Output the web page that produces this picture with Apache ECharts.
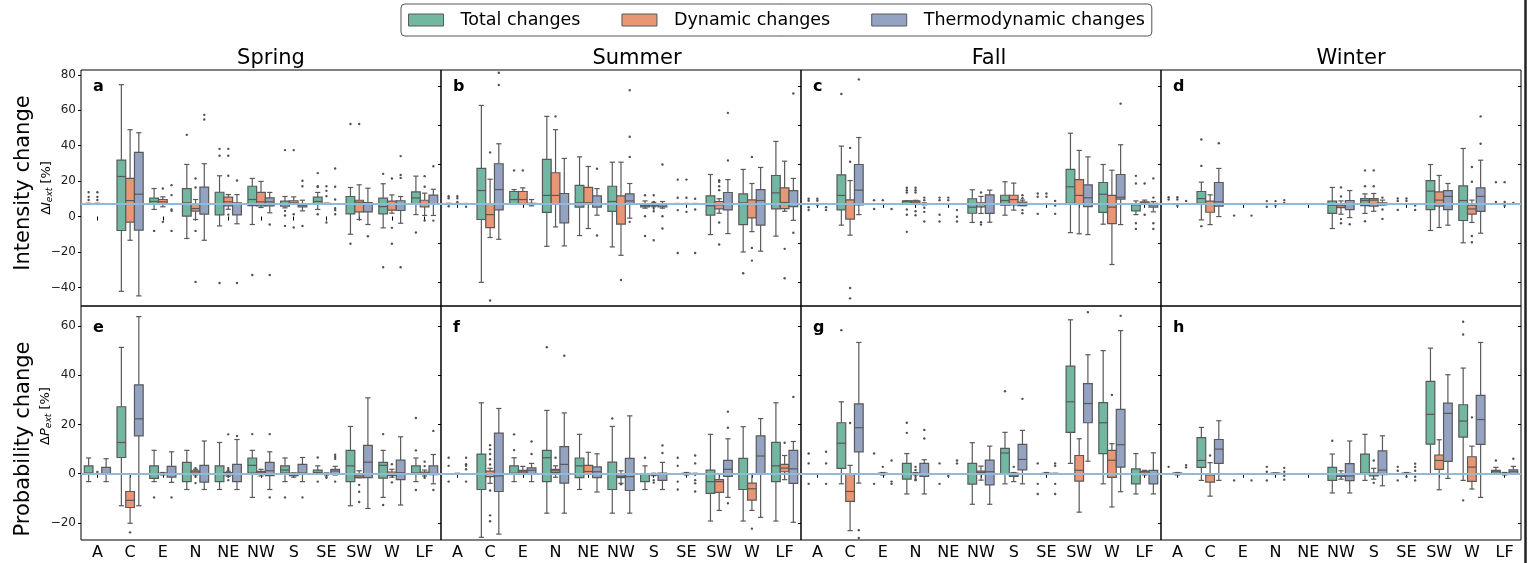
<!DOCTYPE html>
<html><head><meta charset="utf-8">
<script src="https://cdn.jsdelivr.net/npm/echarts@6/dist/echarts.min.js"></script>
<style>html,body{margin:0;padding:0;background:#fff}#chart{width:1528px;height:563px}</style>
</head><body><div id="chart"></div>
<script>
// ---------------- DATA ----------------
const categories = ['A','C','E','N','NE','NW','S','SE','SW','W','LF'];
const seriesNames = ['Total changes','Dynamic changes','Thermodynamic changes'];
const seasons = ['Spring','Summer','Fall','Winter'];
const panelLetters = ['a','b','c','d','e','f','g','h'];
const intensityTickLabels = [-40,-20,0,20,40,60,80];
const intensityTicksOther = [-40,-20,0,20,40,60];
const probabilityTickLabels = [-20,0,20,40,60];
const referenceLevels = [7,0,0,0,0,0,0,0];

// box stats: [lower whisker, q1, median, q3, upper whisker] per category
// ---- Intensity, Spring (a)
const intSpringTotal = [[6.8,6.9,7.0,7.2,7.5],[-42.2,-7.9,22.6,31.8,74.4],[4.0,7.0,8.5,10.4,15.8],[-12.4,0.2,7.7,15.8,29.4],[-5.3,0.9,7.0,13.7,23.0],[-4.5,6.2,9.6,17.1,21.5],[4.9,5.8,7.0,8.7,11.3],[4.0,7.3,8.5,10.9,13.6],[-10.0,1.5,7.0,11.3,16.4],[-6.4,1.5,5.6,10.4,18.5],[1.1,7.0,10.5,13.9,22.8]];
const intSpringTotalOut = [[13.7,11.1,9.3],[],[-8.1],[46.1],[38.2,34.3,-37.5],[-33],[37.5,3.2,0.6,-5.3],[24.5,17.1,16.6,1.3],[52.2,-15.4],[24.1,-28.6],[-9.0]];
const intSpringDyn = [[6.8,6.9,7.0,7.2,7.5],[-13.4,-3.2,9.0,21.5,49.0],[5.5,7.0,8.3,9.6,11.1],[-1.7,3.0,4.5,7.3,9.6],[4.1,6.0,8.3,10.9,12.4],[5.1,6.0,8.3,13.6,19.8],[7.0,7.0,7.7,8.9,11.1],[7.1,7.2,7.3,7.4,7.5],[-1.7,2.6,8.1,9.2,17.9],[1.9,3.6,7.0,8.7,12.2],[0.6,5.5,7.3,9.2,13.2]];
const intSpringDynOut = [[13.7,11.1,9.3],[],[15.8,-3.0],[21.5,16.4,-8.1,-36.9],[38.2,34.3,23.0,1.1],[],[37.5,1.3,-6.2],[17.1,14.5,11.5,-3.4],[52.2],[21.5,-6.4,-15.4],[22.8,16.8,-2.3]];
const intSpringThermo = [[6.9,7.0,7.0,7.0,7.1],[-44.8,-7.7,12.6,36.2,47.3],[6.8,6.9,7.0,7.1,7.2],[-13.4,1.3,7.0,16.6,29.8],[-4.1,0.9,7.0,7.7,12.4],[2.1,6.0,8.3,10.5,13.6],[3.2,5.5,6.4,7.0,9.2],[6.9,7.0,7.0,7.1,7.2],[-4.5,2.6,7.0,7.9,16.0],[-3.8,3.4,7.0,8.9,11.3],[0.6,7.0,7.0,12.1,15.4]];
const intSpringThermoOut = [[],[],[17.7,12.1,4.0,3.2,-8.1],[57.4,54.8],[20.3,-37.5],[-4.5,-33],[20.2,17.1,-5.3],[27.1,16.8,9.6,4.7,3.6,1.3],[-11.1],[34.1,23.5,21.8,-28.6],[28.4,-2.3]];

// ---- Intensity, Summer (b)
const intSummerTotal = [[-0.3,0,0,0,0.3],[-40.1,-8.0,6.8,18.1,50.3],[-0.3,-0.3,2.2,6.3,7.3],[-21.7,-4.4,4.3,22.7,44.7],[-16.2,-1.7,0.5,9.4,24.0],[-22.0,-3.8,1.2,9.0,21.3],[-2.2,-1.5,-0.9,0,1.5],[-0.2,0,0,0,0.2],[-15.7,-5.8,-1.0,4.1,15.0],[-24.6,-10.6,0.5,5.1,17.6],[-16.5,-2.6,5.6,14.5,31.9]];
const intSummerTotalOut = [[3.9,2.9,-1.2],[],[17.1],[],[],[],[4.4,-6.3,-16.4],[12.4,3.1,-3.2,-25.1],[],[-35.5],[]];
const intSummerDyn = [[-0.2,0,0,0,0.2],[-17.2,-12.1,-5.5,0,12.6],[0,0,2.2,6.3,8.2],[-11.8,0,4.3,15.9,37.9],[-12.6,0.3,0.5,8.4,19.1],[-26.3,-10.4,0,4.1,21.3],[-1.5,-1.0,-0.5,0,0.8],[-0.2,0,0,0,0.2],[-4.8,-2.6,-0.5,1.2,2.6],[-14.2,-7.2,-0.3,2.0,10.4],[-3.8,-2.4,0.7,8.2,21.8]];
const intSummerDynOut = [[3.9,2.9,1.0],[26.3,-49.4],[17.1],[44.7],[],[-38.9],[4.4,1.0,-2.4,-3.8,-18.6],[12.4,3.1,-4.1],[12.1,11.3,9.0,7.0,-9.5,-20.8],[24.0,-22.5,-29.0],[-23.0,-38.0]];
const intSummerThermo = [[-0.2,0,0,0,0.2],[-18.1,-3.1,7.3,20.5,30.7],[-1.0,-0.3,0,0.3,2.2],[-21.5,-9.7,0,5.3,23.2],[-5.8,-1.7,0,4.1,7.8],[-7.3,0,1.5,5.1,10.4],[-2.2,-1.5,-0.5,0,1.2],[-0.2,0,0,0,0.2],[-15.2,-3.1,0,5.8,12.4],[-24.2,-10.9,1.7,7.3,18.6],[-8.4,-1.4,-0.3,6.8,13.0]];
const intSummerThermoOut = [[-1.5],[67.0,60.7],[],[],[17.9,-16.2],[58.1,34.3,24.0,-9.2],[20.1,-6.3,-12.6],[2.6,-2.9,-25.1],[46.5,22.2],[],[56.4,-14.8]];

// ---- Intensity, Fall (c)
const intFallTotal = [[0,0,0,0,0],[-10.9,-3.1,4.3,14.8,29.5],[0,0,0,0,0],[-0.3,-0.3,1.2,1.5,1.5],[0,0,0,0,0],[-9.5,-4.8,-1.7,2.6,7.2],[-5.8,-0.7,1.7,4.4,11.3],[0,0,0,0,0],[-14.7,0.3,8.7,17.6,36.1],[-10.4,-4.4,4.9,10.9,20.1],[-5.5,-3.6,-0.5,0,1.5]];
const intFallTotalOut = [[2.6,1.6,-1.7,-3.2],[56.1],[1.9,-2.6],[8.2,7.0,5.8,-2.9,-5.6,-14.3],[3.2,1.9,-5.6,-9.0],[],[],[5.3,3.6,-5.1],[],[],[14.3,10.4,-9.9,-12.8]];
const intFallDyn = [[0,0,0,0,0],[-16.0,-7.8,0,2.0,11.9],[0,0,0,0,0],[-0.3,0,0.9,1.5,1.8],[0,0,0,0,0],[-4.9,-1.5,-0.3,0.5,3.8],[-3.2,-0.5,2.2,4.4,10.6],[0,0,0,0,0],[-15.3,0,4.3,12.4,27.3],[-31.0,-10.1,-1.7,4.3,17.2],[-0.3,0,0.5,1.0,1.9]];
const intFallDynOut = [[2.6,1.6,-0.7],[28.6,21.5,-43.0,-48.3],[1.9],[8.2,7.0,5.8,-3.8,-5.8],[3.2,1.9],[5.8,-9.4,-10.6],[],[5.3,3.6],[],[],[10.4,-5.6]];
const intFallThermo = [[0,0,0,0,0],[-5.5,-0.5,7.0,20.1,33.9],[0,0,0,0,0],[-0.5,0,0,0,0.5],[0,0,0,0,0],[-9.4,-4.9,0,4.6,7.0],[-0.9,-0.9,0,0.9,1.9],[0,0,0,0,0],[-15.7,-1.4,3.1,9.7,24.0],[-10.6,2.4,3.4,15.0,30.2],[-4.1,-1.7,-0.5,0.2,1.2]];
const intFallThermoOut = [[-1.7,-3.2],[63.6],[-2.6],[3.2,1.9,-2.0,-4.1,-9.0],[-3.2,-6.6,-9.0],[],[4.4,2.9,-3.2,-4.8],[1.5,-0.9,-5.1],[],[51.2],[13.0,3.2,-9.9,-12.8]];

// ---- Intensity, Winter (d)
const intWinterTotal = [[0,0,0,0,0],[-8.2,0.3,2.7,6.3,11.1],[0,0,0,0,0],[0,0,0,0,0],[0,0,0,0,0],[-12.6,-4.9,-0.7,1.4,8.4],[-4.9,-0.9,1.7,2.7,5.1],[0,0,0,0,0],[-13.6,-2.9,6.5,11.9,20.1],[-19.9,-8.5,1.7,9.2,28.3],[0,0,0,0,0]];
const intWinterTotalOut = [[3.4,2.2],[32.9,19.4,-11.4],[-6.0],[1.4,-1.5],[],[],[17.1,9.0,-8.9],[2.7,1.5,-3.1],[],[],[11.1,1.0]];
const intWinterDyn = [[0,0,0,0,0],[-10.6,-4.3,0,1.4,4.6],[0,0,0,0,0],[0,0,0,0,0],[0,0,0,0,0],[-5.3,-1.9,-1.0,-0.2,1.5],[-3.8,-1.2,1.9,2.7,5.3],[0,0,0,0,0],[-12.1,-1.2,1.9,6.1,14.5],[-9.5,-5.3,-2.6,-0.7,1.9],[0,0,0,0,0]];
const intWinterDynOut = [[3.4,2.2,-1.0],[],[],[1.4,-1.0],[],[8.4,3.8,-7.8,-9.9],[17.1,9.0],[2.7,1.5],[],[18.8,11.3,-16.4,-19.6],[11.1,1.0,-1.0]];
const intWinterThermo = [[0,0,0,0,0],[-6.5,-1.2,1.0,10.9,18.1],[0,0,0,0,0],[0,0,0,0,0],[0,0,0,0,0],[-7.0,-2.9,-0.2,1.7,6.8],[-0.5,-0.5,0,0.5,1.9],[0,0,0,0,0],[-10.9,-2.9,3.8,6.8,10.4],[-15.0,-3.8,3.8,8.2,22.3],[0,0,0,0,0]];
const intWinterThermoOut = [[1.5],[31.0],[-6.0],[1.9,0.5],[],[-10.4],[3.2,-2.9,-7.7],[-0.9,-3.1],[],[44.7,30.7],[0.5]];

// ---- Probability, Spring (e)
const probSpringTotal = [[-3.2,0,0.3,3.2,6.4],[-13.0,6.6,12.7,27.2,51.3],[-3.2,-1.9,0,3.2,9.5],[-6.4,-3.2,0,4.6,9.5],[-6.4,-3.2,0,3.2,12.7],[-9.6,0.3,3.4,6.4,9.5],[-3.2,0.3,1.5,3.2,6.4],[0.3,0.3,0.5,1.5,3.2],[-13.0,-3.2,3.2,9.5,19.2],[-9.6,-1.8,3.4,4.6,9.5],[-3.2,0,0.3,3.2,6.4]];
const probSpringTotalOut = [[],[],[-9.6],[],[],[16.1],[-9.6],[6.6,-3.2],[],[16.1,-12.7],[22.6,9.5,-6.6]];
const probSpringDyn = [[0,0,0,0,0],[-20.1,-13.7,-10.8,-7.2,0],[-0.5,-0.3,0,0.3,0.5],[-0.5,0,0.7,1.2,1.8],[-1.0,-0.5,0,0.5,1.0],[-0.9,0.3,0.7,1.0,1.8],[-1.4,-0.8,-0.3,0.3,0.3],[-0.5,-0.3,0,0.2,0.3],[-1.6,-1.6,-0.9,-0.3,1.2],[-1.4,-0.7,0,0.7,1.8],[-0.9,-0.3,0.3,0.7,1.5]];
const probSpringDynOut = [[0.7],[-23.8],[],[2.3,-1.2,-3.8],[16.0,2.3,1.5,-1.2,-2.6],[],[],[-1.2,-1.6],[-4.5,-7.3,-11.5],[3.9,-3.5],[4.9,3.1,-1.6]];
const probSpringThermo = [[-3.2,0,0.1,2.6,6.1],[-13.0,15.4,22.3,36.1,63.8],[-3.5,-1.4,0,3.0,8.9],[-6.4,-3.4,0,3.4,13.3],[-6.4,-3.2,0,3.8,13.9],[-6.4,-0.8,1.2,4.6,8.9],[-3.2,0,0.3,3.8,6.6],[-0.5,0,1.1,1.8,3.0],[-14.1,-1.6,4.7,11.5,30.8],[-12.7,-2.4,0.4,5.5,15.0],[-4.1,-0.4,0.1,3.2,7.8]];
const probSpringThermoOut = [[],[],[-9.6],[],[15.3],[16.1,-9.6],[-9.6],[7.7,6.9,6.1,-3.2],[],[],[17.4,-6.6]];

// ---- Probability, Summer (f)
const probSummerTotal = [[0,0,0,0,0],[-25.8,-6.4,0,8.0,28.8],[-3.2,0,0.2,3.2,6.5],[-16.0,-3.2,6.5,9.5,25.7],[-6.4,-1.6,3.2,6.4,16.0],[-16.0,-6.4,0,4.7,19.2],[-6.4,-3.2,0,0,3.2],[0,0,0,0,0],[-19.2,-8.0,-3.2,1.5,16.0],[-19.2,-6.4,0,6.2,19.1],[-19.2,-3.2,3.2,12.7,28.8]];
const probSummerTotalOut = [[6.5,3.2,-3.2],[],[16.0,9.6],[51.4],[],[22.4],[6.5],[6.5,3.2,-3.2,-6.4],[],[],[]];
const probSummerDyn = [[-0.2,0,0,0,0.2],[-3.9,-1.2,0,1.1,2.2],[0,0.3,0.8,1.4,3.0],[-1.4,0.5,1.2,1.8,3.2],[0,0.1,0.9,3.4,8.7],[-3.9,-1.6,-1.1,-0.4,1.2],[-0.8,-0.5,-0.3,0,0.2],[-0.5,-0.2,0,0.2,0.5],[-14.9,-7.6,-3.2,-2.4,0],[-14.9,-10.7,-6.1,-3.8,0],[-2.4,0.8,2.3,3.8,7.4]];
const probSummerDynOut = [[],[11.6,9.9,8.0,5.9,3.8,-6.8,-16.9,-19.3],[],[6.5],[],[-4.3],[-2.6,-3.6],[],[],[-22.3],[12.6]];
const probSummerThermo = [[0,0,0,0,0],[-24.5,-7.2,-0.9,16.5,26.5],[-3.2,0,1.4,2.4,4.2],[-16.0,-3.8,3.8,11.0,24.7],[-7.4,-1.6,0.8,2.8,8.1],[-16.0,-6.8,-1.2,6.2,23.5],[-6.4,-2.7,0,0.3,4.6],[-0.2,0,0,0,0.2],[-9.6,-1.1,1.8,5.4,14.2],[-17.7,0,7.2,15.4,22.4],[-19.7,-3.9,2.0,9.5,13.1]];
const probSummerThermoOut = [[6.5,3.9,3.2,1.8,-3.2],[],[13.1,8.0],[47.9],[],[],[11.5,8.4],[7.4,4.2,-0.4,-2.6,-3.9,-7.2],[25.2,18.7,-12.0],[],[31.2]];

// ---- Probability, Fall (g)
const probFallTotal = [[0,0,0,0,0],[-4.1,2.2,12.4,20.7,29.2],[0,0,0,0,0],[-8.2,-2.2,0,4.2,8.2],[0,0,0,0,0],[-12.4,-4.2,0,4.2,12.6],[-4.1,0,8.4,10.3,16.8],[0,0,0,0,0],[4.2,16.8,29.2,43.7,62.5],[-4.1,8.2,20.7,28.9,50.0],[-8.2,-4.1,0,2.0,8.2]];
const probFallTotalOut = [[8.2,4.2,-4.1],[58.3],[8.2,-4.1],[20.7,16.6],[4.2,-4.1],[],[33.5],[4.2,-4.1,-8.2],[],[],[]];
const probFallDyn = [[0,0,0,0,0],[-23.1,-11.2,-7.2,-0.3,3.4],[-0.5,-0.3,0,0.3,0.5],[-0.5,-0.2,0,0.3,0.5],[0,0,0,0,0],[-2.6,0,0.5,1.1,3.1],[-3.2,-1.1,-0.5,0.3,0.5],[-0.3,0,0,0.2,0.5],[-15.6,-3.0,1.4,7.4,14.2],[-13.5,-1.5,5.5,9.5,12.2],[-0.5,0,0.3,1.0,1.4]];
const probFallDynOut = [[],[20.6],[2.8],[2.8,1.5,-1.2,-2.2,-2.6],[-0.9],[],[2.8],[],[],[32.0],[]];
const probFallThermo = [[0,0,0,0,0],[-3.8,8.9,18.7,28.4,53.3],[0,0,0,0,0],[-8.2,-1.1,0,4.2,5.7],[0,0,0,0,0],[-12.4,-4.5,0.8,5.5,11.2],[-4.1,1.6,5.8,11.9,17.6],[-0.2,0,0,0.1,0.2],[5.1,20.7,28.5,36.6,48.3],[-7.3,2.7,11.8,26.1,58.1],[-8.2,-4.1,0,1.4,8.5]];
const probFallThermoOut = [[8.9,4.2,-4.1],[-22.9,-26.1],[5.4,-3.2,-4.1],[17.8,14.3],[5.4,4.2],[],[30.4],[4.2,3.2,-4.1,-8.2],[65.6],[64.1],[]];

// ---- Probability, Winter (h)
const probWinterTotal = [[0,0,0,0,0],[-2.7,2.6,5.4,14.7,18.8],[0,0,0,0,0],[0,0,0,0,0],[0,0,0,0,0],[-7.8,-2.7,0,2.6,8.0],[-2.7,0,0.2,8.0,16.0],[0,0,0,0,0],[0,12.0,24.1,37.5,51.0],[-2.7,14.9,21.4,28.0,42.9],[0,0,0.8,1.4,2.6]];
const probWinterTotalOut = [[2.8],[],[-2.7],[2.8,0.8,-2.7],[],[13.4],[],[2.8,1.2,-2.7],[],[61.7,56.5,-10.8],[5.4]];
const probWinterDyn = [[-0.5,0,0,0.3,0.5],[-9.1,-3.4,-0.5,0,4.5],[0,0,0,0,0],[-0.3,0,0,0.3,0.3],[0,0,0,0,0],[-2.2,-1.1,-0.5,0,1.2],[-2.2,-0.9,-0.1,0.3,2.2],[-0.3,-0.2,0,0.3,0.5],[-6.5,1.8,5.4,7.6,13.8],[-6.2,-3.1,2.7,6.9,11.2],[-0.5,-0.3,0,0.3,0.5]];
const probWinterDynOut = [[],[7.4],[],[],[],[],[5.4,-3.7],[-1.2],[],[22.9],[]];
const probWinterThermo = [[0,0,0,0,0],[-2.7,4.2,10.0,13.9,21.5],[0,0,0,0,0],[0,0,0,0,0],[0,0,0,0,0],[-7.8,-2.8,-0.9,4.1,13.3],[-4.9,-0.4,1.5,9.3,15.4],[0,0,0,0,0],[-1.9,5.0,24.5,28.7,40.2],[-9.6,11.9,22.0,31.8,53.3],[0,0,0.8,1.6,3.0]];
const probWinterThermoOut = [[3.5,2.6],[],[-2.7],[2.4,0.8,-0.8,-2.4],[],[],[],[4.1,2.8,1.2,-1.2,-2.7],[],[],[6.1]];

// ---------------- LAYOUT / STYLE ----------------
const FONT = 'DejaVu Sans';
const COLORS = ['#72b7a1', '#e99675', '#95a3c3'];
const LINE = '#595959';
const REF_COLOR = '#8fbbda';
const panelLefts = [81, 441, 801, 1161];
const panelWidth = 360;
const rowTops = [70, 306];
const rowHeights = [236, 234];

const panelBoxes = [
  [intSpringTotal, intSpringDyn, intSpringThermo],
  [intSummerTotal, intSummerDyn, intSummerThermo],
  [intFallTotal, intFallDyn, intFallThermo],
  [intWinterTotal, intWinterDyn, intWinterThermo],
  [probSpringTotal, probSpringDyn, probSpringThermo],
  [probSummerTotal, probSummerDyn, probSummerThermo],
  [probFallTotal, probFallDyn, probFallThermo],
  [probWinterTotal, probWinterDyn, probWinterThermo]
];
const panelOutliers = [
  [intSpringTotalOut, intSpringDynOut, intSpringThermoOut],
  [intSummerTotalOut, intSummerDynOut, intSummerThermoOut],
  [intFallTotalOut, intFallDynOut, intFallThermoOut],
  [intWinterTotalOut, intWinterDynOut, intWinterThermoOut],
  [probSpringTotalOut, probSpringDynOut, probSpringThermoOut],
  [probSummerTotalOut, probSummerDynOut, probSummerThermoOut],
  [probFallTotalOut, probFallDynOut, probFallThermoOut],
  [probWinterTotalOut, probWinterDynOut, probWinterThermoOut]
];

function boxRender(k) {
  return function (params, api) {
    const cat = api.value(0);
    const bw = api.size([1, 0])[0];
    const w = bw * 0.8 / 3;
    const cx = api.coord([cat, 0])[0] + (k - 1) * w;
    const y = i => api.coord([cat, api.value(i)])[1];
    const yLo = y(1), yQ1 = y(2), yMed = y(3), yQ3 = y(4), yHi = y(5);
    const half = w / 2, cap = w * 0.3;
    const ls = { stroke: LINE, lineWidth: 1.2 };
    return {
      type: 'group', children: [
        { type: 'line', shape: { x1: cx, y1: yQ3, x2: cx, y2: yHi }, style: ls },
        { type: 'line', shape: { x1: cx, y1: yQ1, x2: cx, y2: yLo }, style: ls },
        { type: 'line', shape: { x1: cx - cap, y1: yHi, x2: cx + cap, y2: yHi }, style: ls },
        { type: 'line', shape: { x1: cx - cap, y1: yLo, x2: cx + cap, y2: yLo }, style: ls },
        { type: 'rect', shape: { x: cx - half, y: yQ3, width: w, height: Math.max(yQ1 - yQ3, 0.01) }, style: { fill: COLORS[k], stroke: LINE, lineWidth: 1.2 } },
        { type: 'line', shape: { x1: cx - half, y1: yMed, x2: cx + half, y2: yMed }, style: ls }
      ]
    };
  };
}
function outRender(k) {
  return function (params, api) {
    const cat = api.value(0);
    const bw = api.size([1, 0])[0];
    const w = bw * 0.8 / 3;
    const p = api.coord([cat, api.value(1)]);
    return { type: 'circle', shape: { cx: p[0] + (k - 1) * w, cy: p[1], r: 1.2 }, style: { fill: '#505050' } };
  };
}

const grids = [], xAxes = [], yAxes = [], series = [];
for (let p = 0; p < 8; p++) {
  const row = Math.floor(p / 4), col = p % 4;
  grids.push({ left: panelLefts[col], top: rowTops[row], width: panelWidth, height: rowHeights[row],
    show: true, borderColor: '#000', borderWidth: 1, backgroundColor: 'transparent', containLabel: false });
  xAxes.push({ type: 'category', gridIndex: p, data: categories, boundaryGap: true,
    axisLine: { show: false },
    axisTick: { show: true, alignWithLabel: true, length: 4, lineStyle: { color: '#000' } },
    axisLabel: { show: row === 1, fontSize: 16, color: '#000', fontFamily: FONT, margin: 5, interval: 0 },
    splitLine: { show: false } });
  let yMin, yMax, ticks, showLabels;
  if (row === 0) {
    if (col === 0) { yMin = -50.5; yMax = 82.7; ticks = intensityTickLabels; showLabels = true; }
    else { yMin = -52.2; yMax = 68.4; ticks = intensityTicksOther; showLabels = false; }
  } else {
    yMin = -26.9; yMax = 68.1; ticks = probabilityTickLabels; showLabels = col === 0;
  }
  yAxes.push({ type: 'value', gridIndex: p, min: yMin, max: yMax,
    axisLine: { show: false }, splitLine: { show: false },
    axisTick: { show: true, length: 3, customValues: ticks, lineStyle: { color: '#000' } },
    axisLabel: { show: showLabels, customValues: ticks, fontSize: 12, color: '#222', fontFamily: FONT, margin: 5,
      formatter: v => (v < 0 ? '\u2212' + Math.abs(v) : String(v)) } });
  for (let k = 0; k < 3; k++) {
    series.push({ type: 'custom', name: seriesNames[k], xAxisIndex: p, yAxisIndex: p,
      renderItem: boxRender(k), clip: true, z: 2,
      itemStyle: { color: COLORS[k] },
      encode: { x: 0, y: [1, 2, 3, 4, 5] },
      data: panelBoxes[p][k].map((b, i) => [i].concat(b)) });
  }
  for (let k = 0; k < 3; k++) {
    const pts = [];
    panelOutliers[p][k].forEach((arr, i) => arr.forEach(v => pts.push([i, v])));
    const s = { type: 'custom', name: seriesNames[k], xAxisIndex: p, yAxisIndex: p,
      renderItem: outRender(k), clip: true, z: 3,
      itemStyle: { color: COLORS[k] },
      encode: { x: 0, y: 1 }, data: pts };
    if (k === 2) {
      s.markLine = { silent: true, symbol: 'none', animation: false, label: { show: false },
        lineStyle: { color: REF_COLOR, width: 2, type: 'solid', opacity: 1 },
        emphasis: { disabled: true },
        data: [{ yAxis: referenceLevels[p] }] };
    }
    series.push(s);
  }
}
// right-edge inward ticks on the last column
[3, 7].forEach(p => {
  const src = yAxes[p];
  const ticks = p === 3 ? intensityTicksOther : probabilityTickLabels;
  yAxes.push({ type: 'value', gridIndex: p, position: 'right', min: src.min, max: src.max,
    axisLine: { show: false }, splitLine: { show: false },
    axisTick: { show: true, inside: true, length: 3, customValues: ticks, lineStyle: { color: '#000' } },
    axisLabel: { show: false } });
});

const titleCenters = [271, 637, 989, 1351];
const graphics = [];
seasons.forEach((s, i) => graphics.push({ type: 'text', x: titleCenters[i], y: 59,
  style: { text: s, fontSize: 21, fontFamily: FONT, fill: '#000', align: 'center', verticalAlign: 'middle' } }));
panelLetters.forEach((l, p) => {
  const row = Math.floor(p / 4), col = p % 4;
  graphics.push({ type: 'text', x: panelLefts[col] + 12, y: row === 0 ? 86.5 : 327.5,
    style: { text: l, fontSize: 16, fontWeight: 'bold', fontFamily: FONT, fill: '#000', align: 'left', verticalAlign: 'middle' } });
});
graphics.push({ type: 'text', x: 24, y: 183, rotation: Math.PI / 2,
  style: { text: 'Intensity change', fontSize: 21, fontFamily: FONT, fill: '#000', align: 'center', verticalAlign: 'middle' } });
graphics.push({ type: 'text', x: 24, y: 439, rotation: Math.PI / 2,
  style: { text: 'Probability change', fontSize: 21, fontFamily: FONT, fill: '#000', align: 'center', verticalAlign: 'middle' } });
const subRich = {
  m: { fontSize: 13, fontFamily: FONT, fill: '#000' },
  it: { fontSize: 13, fontFamily: FONT, fontStyle: 'italic', fill: '#000' },
  sub: { fontSize: 9, fontFamily: FONT, fontStyle: 'italic', fill: '#000', verticalAlign: 'bottom', padding: [6, 0, 0, 0] }
};
graphics.push({ type: 'text', x: 47, y: 188, rotation: Math.PI / 2,
  style: { text: '{m|\u0394}{it|I}{sub|ext}{m| [%]}', rich: subRich, align: 'center', verticalAlign: 'middle' } });
graphics.push({ type: 'text', x: 46, y: 416, rotation: Math.PI / 2,
  style: { text: '{m|\u0394}{it|P}{sub|ext}{m| [%]}', rich: subRich, align: 'center', verticalAlign: 'middle' } });
graphics.push({ type: 'line', shape: { x1: 1525.5, y1: 0, x2: 1525.5, y2: 563 }, style: { stroke: '#222', lineWidth: 2.5 } });

const chart = echarts.init(document.getElementById('chart'), null, { renderer: 'canvas' });
chart.setOption({
  animation: false,
  backgroundColor: '#fff',
  legend: {
    left: 401, top: 4, orient: 'horizontal',
    itemWidth: 35, itemHeight: 12, itemGap: 41,
    padding: [6, 7], borderColor: '#555', borderWidth: 1, borderRadius: 4,
    icon: 'rect',
    textStyle: { fontSize: 17.5, fontFamily: FONT, color: '#000', padding: [0, 0, 0, 12], lineHeight: 20 },
    data: seriesNames.map((n, k) => ({ name: n, itemStyle: { color: COLORS[k], borderColor: LINE, borderWidth: 1 } })),
    selectedMode: false
  },
  grid: grids, xAxis: xAxes, yAxis: yAxes, series: series, graphic: graphics
});
</script></body></html>
